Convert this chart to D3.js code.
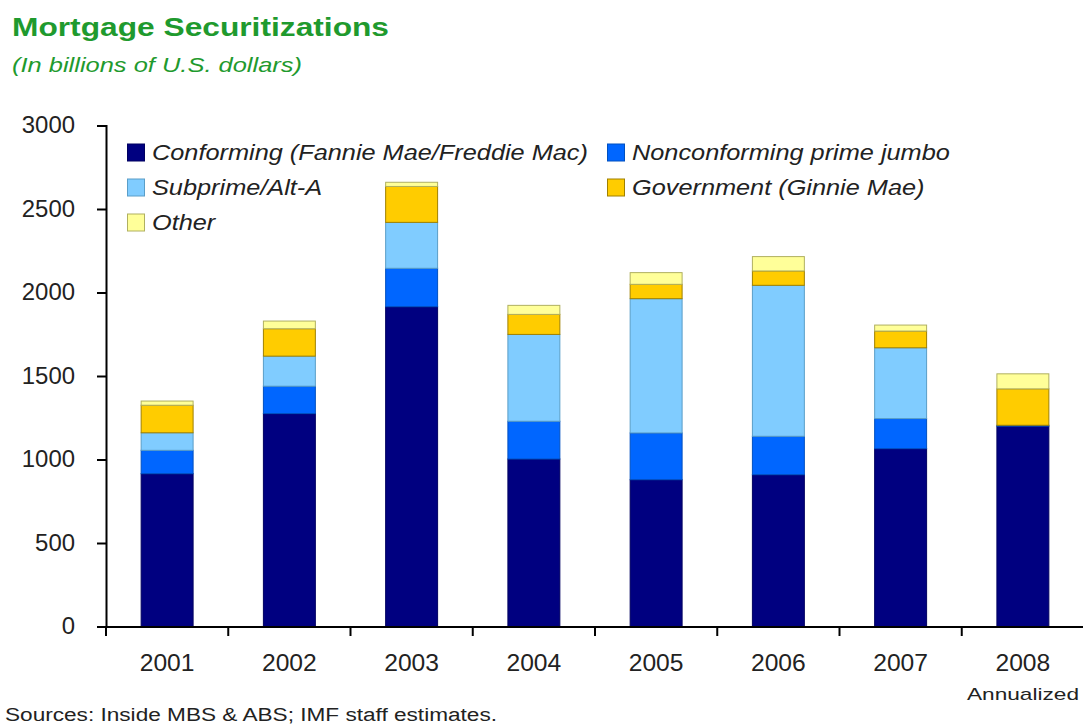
<!DOCTYPE html>
<html>
<head>
<meta charset="utf-8">
<script src="https://cdn.jsdelivr.net/npm/d3@7"></script>
<style>
  body { margin: 0; background: #fff; }
  svg { display: block; }
</style>
</head>
<body>
<div id="chart"></div>
<script>
// data (billions of U.S. dollars)
const years = ["2001", "2002", "2003", "2004", "2005", "2006", "2007", "2008"];
const conforming = [915, 1275, 1915, 1003, 879, 909, 1065, 1200];
const nonconforming = [140, 164, 230, 226, 280, 230, 180, 5];
const subprime = [105, 180, 275, 520, 804, 904, 424, 0];
const government = [165, 164, 215, 120, 86, 86, 100, 218];
const other = [25, 46, 25, 54, 70, 86, 36, 90];
const yTicks = [0, 500, 1000, 1500, 2000, 2500, 3000];

const seriesNames = ["Conforming (Fannie Mae/Freddie Mac)", "Nonconforming prime jumbo",
  "Subprime/Alt-A", "Government (Ginnie Mae)", "Other"];
const seriesKeys = ["conf", "noncon", "sub", "gov", "other"];
const fills = ["#000080", "#0066ff", "#80ccff", "#ffcc00", "#ffff99"];
const strokes = ["#000060", "#0050c0", "#5a9ec8", "#a08000", "#b0b060"];

const rows = years.map((y, i) => ({
  year: y, conf: conforming[i], noncon: nonconforming[i], sub: subprime[i],
  gov: government[i], other: other[i]
}));

const W = 1083, H = 726;
const font = "Arial, 'Liberation Sans', sans-serif";
const svg = d3.select("#chart").append("svg").attr("width", W).attr("height", H);

// the original lettering runs a bit wider than Arial
function fit(sel, stretch) {
  sel.each(function () {
    const w = this.getComputedTextLength();
    d3.select(this).attr("textLength", w * stretch).attr("lengthAdjust", "spacingAndGlyphs");
  });
}

// titles
svg.append("text").attr("x", 12).attr("y", 36)
  .style("font-family", font).style("font-weight", "bold").style("font-size", "26px")
  .style("fill", "#1f9a2e").text("Mortgage Securitizations")
  .attr("textLength", 377).attr("lengthAdjust", "spacingAndGlyphs");
svg.append("text").attr("x", 12).attr("y", 72)
  .style("font-family", font).style("font-style", "italic").style("font-size", "21px")
  .style("fill", "#1f9a2e").text("(In billions of U.S. dollars)")
  .attr("textLength", 290).attr("lengthAdjust", "spacingAndGlyphs");

// scales
const x = d3.scaleBand().domain(years).range([106, 1084])
  .paddingInner(0.575).paddingOuter(0.2875);
const y = d3.scaleLinear().domain([0, 3000]).range([626.5, 125.5]);

const stacked = d3.stack().keys(seriesKeys)(rows);

stacked.forEach((s, k) => {
  svg.append("g").selectAll("rect").data(s).join("rect")
    .attr("x", d => x(d.data.year))
    .attr("y", d => y(d[1]))
    .attr("width", x.bandwidth())
    .attr("height", d => Math.max(0, y(d[0]) - y(d[1])))
    .style("fill", fills[k])
    .style("stroke", strokes[k])
    .style("stroke-width", 1);
});

// y axis
svg.append("g")
  .attr("transform", "translate(106,0)")
  .style("font-family", font).style("font-size", "23px")
  .call(d3.axisLeft(y).tickValues(yTicks).tickFormat(d3.format("d")).tickSize(9).tickPadding(22))
  .call(g => g.selectAll(".tick text").style("fill", "#222").call(fit, 1.04))
  .call(g => g.selectAll("line, path").style("stroke", "#000").style("stroke-width", 2));

// x axis
const xAxis = svg.append("g").attr("transform", "translate(0,627)");
xAxis.append("line").attr("x1", 106).attr("x2", W).attr("y1", 0).attr("y2", 0)
  .style("stroke", "#000").style("stroke-width", 2);
xAxis.selectAll(".bound").data(years.concat([""])).join("line")
  .attr("x1", (d, i) => 106 + i * x.step())
  .attr("x2", (d, i) => 106 + i * x.step())
  .attr("y1", 0).attr("y2", 9)
  .style("stroke", "#000").style("stroke-width", 2);
xAxis.selectAll(".lbl").data(years).join("text")
  .attr("x", d => x(d) + x.bandwidth() / 2)
  .attr("y", 44)
  .attr("text-anchor", "middle")
  .style("font-family", font).style("font-size", "23px").style("fill", "#222")
  .text(d => d)
  .call(fit, 1.07);
svg.append("text").attr("x", 1023).attr("y", 700).attr("text-anchor", "middle")
  .style("font-family", font).style("font-size", "17px").style("fill", "#222")
  .text("Annualized").attr("textLength", 112).attr("lengthAdjust", "spacingAndGlyphs");

// legend
const legendPos = [[127, 152], [607, 152], [127, 187], [607, 187], [127, 222]];
seriesNames.forEach((name, k) => {
  const g = svg.append("g").attr("transform", `translate(${legendPos[k][0]},${legendPos[k][1]})`);
  g.append("rect").attr("x", 0.5).attr("y", -8).attr("width", 17).attr("height", 17)
    .style("fill", fills[k]).style("stroke", strokes[k]).style("stroke-width", 1);
  g.append("text").attr("x", 25).attr("y", 8)
    .style("font-family", font).style("font-style", "italic").style("font-size", "22px")
    .style("fill", "#222").text(name)
    .call(fit, 1.15);
});

// source
svg.append("text").attr("x", 5).attr("y", 721)
  .style("font-family", font).style("font-size", "18px").style("fill", "#222")
  .text("Sources: Inside MBS & ABS; IMF staff estimates.")
  .attr("textLength", 492).attr("lengthAdjust", "spacingAndGlyphs");
</script>
</body>
</html>
